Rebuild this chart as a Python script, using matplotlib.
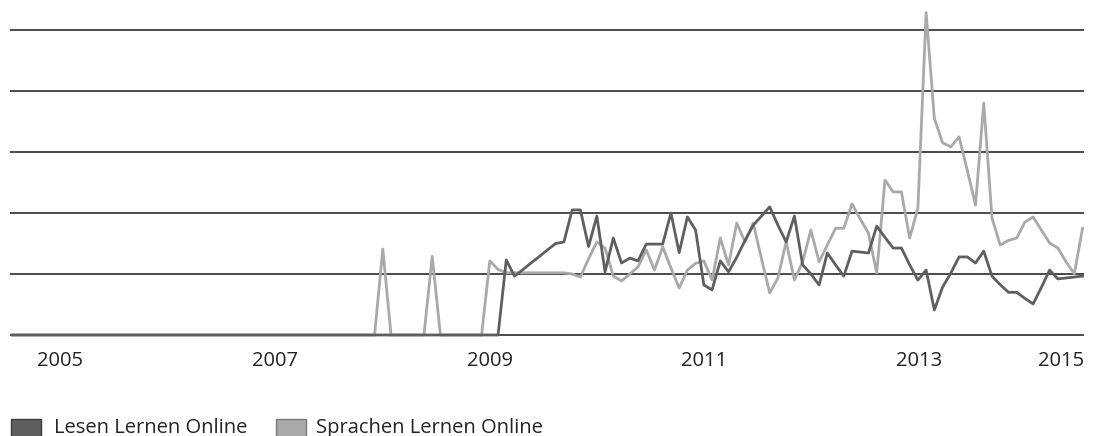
import matplotlib.pyplot as plt
from matplotlib.patches import Rectangle
import pandas as pd

# 4-weekly values, Jul 2004 - Jun 2014
dates = pd.date_range("2004-07-22", periods=131, freq="28D")

lesen = [
    0, 0, 0, 0, 0, 0, 0, 0, 0, 0, 0, 0, 0, 0, 0, 0, 0, 0, 0, 0,
    0, 0, 0, 0, 0, 0, 0, 0, 0, 0, 0, 0, 0, 0, 0, 0, 0, 0, 0, 0,
    0, 0, 0, 0, 0, 0, 0, 0, 0, 0, 0, 0, 0, 0, 0, 0, 0, 0, 0, 0,
    24.6, 19.3, 21.4, 23.6, 25.7, 27.9, 30, 30.5, 41, 41,
    29, 39, 20.7, 31.8, 23.6, 25.2, 24.3, 29.8, 29.8, 29.8,
    40, 27, 38.7, 34.4, 16.4, 14.8, 24.3, 20.7, 25.5, 31,
    36, 39, 42, 36, 30.5, 39, 23, 20, 16.4, 26.9,
    23, 19.3, 27.5, 27.2, 26.9, 35.7, 32, 28.5, 28.5, 23,
    18, 21.3, 8.2, 15.7, 20.3, 25.6, 25.6, 23.6, 27.5, 19.3,
    16.5, 14, 14, 12, 10.2, 15.6, 21.3, 18.4, 18.7, 19, 19.3,
]

sprachen = [
    0, 0, 0, 0, 0, 0, 0, 0, 0, 0, 0, 0, 0, 0, 0, 0, 0, 0, 0, 0,
    0, 0, 0, 0, 0, 0, 0, 0, 0, 0, 0, 0, 0, 0, 0, 0, 0, 0, 0, 0,
    0, 0, 0, 0, 0, 28.2, 0, 0, 0, 0, 0, 25.8, 0, 0, 0, 0, 0, 0,
    24.3, 21.5, 20.4, 20.4, 20.4, 20.4, 20.4, 20.4, 20.4, 20.4,
    20, 19, 25, 30.5, 28.5, 19.3, 17.7, 20, 22.3, 27.9,
    21.3, 28.9, 22, 15.4, 21.3, 23.5, 24.3, 18, 31.8, 23,
    36.7, 30.5, 36.7, 25, 13.8, 18.7, 30.5, 18, 24, 34.4,
    24, 29.5, 35, 35, 43, 38, 33.4, 20.3, 50.8, 46.9,
    46.9, 31.8, 41.6, 105.7, 71, 63, 61.7, 65, 54, 42.6,
    76, 38.4, 29.5, 31, 31.8, 37, 38.7, 34.4, 30.2, 28.5,
    24, 20, 35,
]

year_labels = ["2005", "2007", "2009", "2011", "2013", "2015"]

names = ["Lesen Lernen Online", "Sprachen Lernen Online"]
colors = ["#5f5f60", "#a9a9ab"]
edges = ["#3c3c3c", "#7a7a7a"]

plt.rcParams["font.family"] = ["Open Sans", "DejaVu Sans"]

fig = plt.figure(figsize=(10.96, 4.36), dpi=100)
W, H = 1096, 436
ax = fig.add_axes([10 / W, 1 - 340 / H, 1074 / W, 340 / H])

ax.plot(dates, sprachen, color=colors[1], lw=2.0, zorder=3)
ax.plot(dates, lesen, color=colors[0], lw=2.0, zorder=4)

ax.set_ylim(-5 * 20 / 61, 335 * 20 / 61)
x_left = dates[0] - pd.Timedelta(days=8)
x_right = dates[-1] + pd.Timedelta(days=5)
ax.set_xlim(x_left, x_right)

ax.set_yticks([0, 20, 40, 60, 80, 100])
ax.yaxis.grid(True, color="#2b2b2b", lw=1.2, zorder=1)
ax.set_axisbelow(True)
ax.tick_params(axis="y", length=0, labelleft=False)

# year ticks; the last one sits at the right end of the axis
ticks = list(pd.to_datetime(["2005-01-01", "2007-01-01", "2009-01-01",
                             "2011-01-01", "2013-01-01"])) + [x_right]
ax.set_xticks(ticks)
ax.set_xticklabels(year_labels)
ax.tick_params(axis="x", length=0, pad=8, labelsize=14.5,
               labelcolor="#222222")
ax.get_xticklabels()[-1].set_ha("right")

for s in ax.spines.values():
    s.set_visible(False)

# legend squares at the bottom, cut by the figure edge
leg_x = [11, 276]
text_x = [54, 316]
for i in range(2):
    fig.add_artist(Rectangle((leg_x[i] / W, 1 - 450 / H), 30 / W, 31 / H,
                             transform=fig.transFigure, facecolor=colors[i],
                             edgecolor=edges[i], lw=1.0))
    fig.text(text_x[i] / W, 1 - 428 / H, names[i], fontsize=14.5,
             color="#222222", va="center", ha="left")

fig.savefig("out.png", dpi=100)
